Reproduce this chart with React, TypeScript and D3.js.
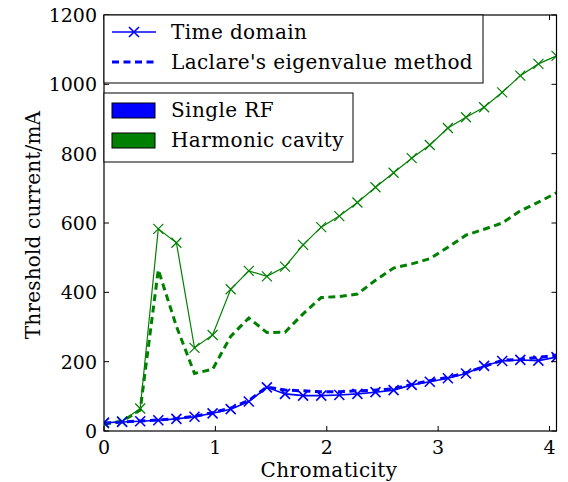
import React from "react";
import * as d3 from "d3";

const chromaticity = [0, 0.1625, 0.325, 0.4875, 0.65, 0.8125, 0.975, 1.1375, 1.3, 1.4625, 1.625, 1.7875, 1.95, 2.1125, 2.275, 2.4375, 2.6, 2.7625, 2.925, 3.0875, 3.25, 3.4125, 3.575, 3.7375, 3.9, 4.0625];
const harmonicTime = [22, 28, 65, 583, 543, 240, 277, 409, 462, 446, 474, 537, 588, 620, 659, 703, 745, 787, 825, 874, 905, 934, 977, 1025, 1059, 1082];
const harmonicEigen = [20, 28, 60, 465, 302, 166, 178, 273, 326, 284, 285, 338, 385, 388, 395, 435, 470, 482, 497, 530, 565, 582, 600, 635, 660, 687];
const singleTime = [24, 26, 28, 31, 35, 41, 51, 63, 85, 126, 107, 102, 102, 104, 107, 112, 118, 133, 142, 152, 166, 188, 202, 205, 203, 213];
const singleEigen = [22, 26, 29, 32, 36, 42, 53, 66, 88, 127, 118, 116, 113, 113, 116, 118, 122, 134, 145, 155, 168, 186, 204, 207, 212, 219];
const xTicks = [0, 1, 2, 3, 4];
const yTicks = [0, 200, 400, 600, 800, 1000, 1200];

const W = 568, H = 482;
const L = 104, R = 556.5, T = 15, B = 431;
const FONT = "DejaVu Serif, Liberation Serif, Noto Serif, serif";
const BLUE = "#0000ff";
const GREEN = "#008000";

export default function App() {
  const x = d3.scaleLinear().domain([0, 4.0625]).range([L, R]);
  const y = d3.scaleLinear().domain([0, 1200]).range([B, T]);
  const line = d3.line<number>().x((_, i) => x(chromaticity[i])).y((d) => y(d));
  const tick = 5;

  const markers = (vals: number[], color: string, sw: number) =>
    vals.map((v, i) => {
      const cx = x(chromaticity[i]);
      const cy = y(v);
      const s = 5;
      return (
        <path key={i} d={`M${cx - s},${cy - s}L${cx + s},${cy + s}M${cx - s},${cy + s}L${cx + s},${cy - s}`} stroke={color} strokeWidth={sw} fill="none" />
      );
    });

  const ts = { fontFamily: FONT, fontSize: 19 } as React.CSSProperties;
  const ws = { fontFamily: FONT, fontSize: 20, letterSpacing: 0.4 } as React.CSSProperties;

  return (
    <svg width={W} height={H} style={{ position: "absolute", left: 0, top: 0, background: "#fff" }}>
      <rect width={W} height={H} fill="#fff" />
      <defs>
        <clipPath id="plot">
          <rect x={L} y={T} width={R - L} height={B - T} />
        </clipPath>
      </defs>
      <g clipPath="url(#plot)">
        <path d={line(harmonicEigen) || ""} fill="none" stroke={GREEN} strokeWidth={3} strokeDasharray="7,4.5" />
        <path d={line(singleEigen) || ""} fill="none" stroke={BLUE} strokeWidth={3} strokeDasharray="7,4.5" />
        <path d={line(harmonicTime) || ""} fill="none" stroke={GREEN} strokeWidth={1.2} />
        {markers(harmonicTime, GREEN, 1.2)}
        <path d={line(singleTime) || ""} fill="none" stroke={BLUE} strokeWidth={1.6} />
        {markers(singleTime, BLUE, 1.6)}
      </g>
      <rect x={L} y={T} width={R - L} height={B - T} fill="none" stroke="#000" strokeWidth={1.2} />
      {xTicks.map((t) => (
        <g key={t}>
          <line x1={x(t)} x2={x(t)} y1={B} y2={B - tick} stroke="#000" />
          <line x1={x(t)} x2={x(t)} y1={T} y2={T + tick} stroke="#000" />
          <text x={x(t)} y={454} textAnchor="middle" style={ts}>{t}</text>
        </g>
      ))}
      {yTicks.map((t) => (
        <g key={t}>
          <line x1={L} x2={L + tick} y1={y(t)} y2={y(t)} stroke="#000" />
          <line x1={R} x2={R - tick} y1={y(t)} y2={y(t)} stroke="#000" />
          <text x={97} y={y(t)} dy="0.36em" textAnchor="end" style={ts}>{t}</text>
        </g>
      ))}
      <text x={329} y={477} textAnchor="middle" style={ws}>Chromaticity</text>
      <text transform={`translate(40,225) rotate(-90)`} textAnchor="middle" style={{ ...ws, letterSpacing: 0.2 }}>Threshold current/mA</text>

      <rect x={L} y={T} width={483 - L} height={83 - T} fill="#fff" stroke="#000" strokeWidth={1} />
      <line x1={112} x2={156} y1={32} y2={32} stroke={BLUE} strokeWidth={1.6} />
      <path d="M129,27L139,37M129,37L139,27" stroke={BLUE} strokeWidth={1.6} />
      <text x={171} y={32} dy="0.36em" style={ws}>Time domain</text>
      <line x1={112} x2={156} y1={62} y2={62} stroke={BLUE} strokeWidth={3} strokeDasharray="7,4.5" />
      <text x={171} y={62} dy="0.36em" style={ws}>Laclare's eigenvalue method</text>

      <rect x={L} y={93} width={353 - L} height={162 - 93} fill="#fff" stroke="#000" strokeWidth={1} />
      <rect x={112} y={103} width={43} height={15} fill={BLUE} stroke="#000" strokeWidth={1} />
      <text x={171} y={110} dy="0.36em" style={ws}>Single RF</text>
      <rect x={112} y={133} width={43} height={15} fill={GREEN} stroke="#000" strokeWidth={1} />
      <text x={171} y={140} dy="0.36em" style={ws}>Harmonic cavity</text>
    </svg>
  );
}
